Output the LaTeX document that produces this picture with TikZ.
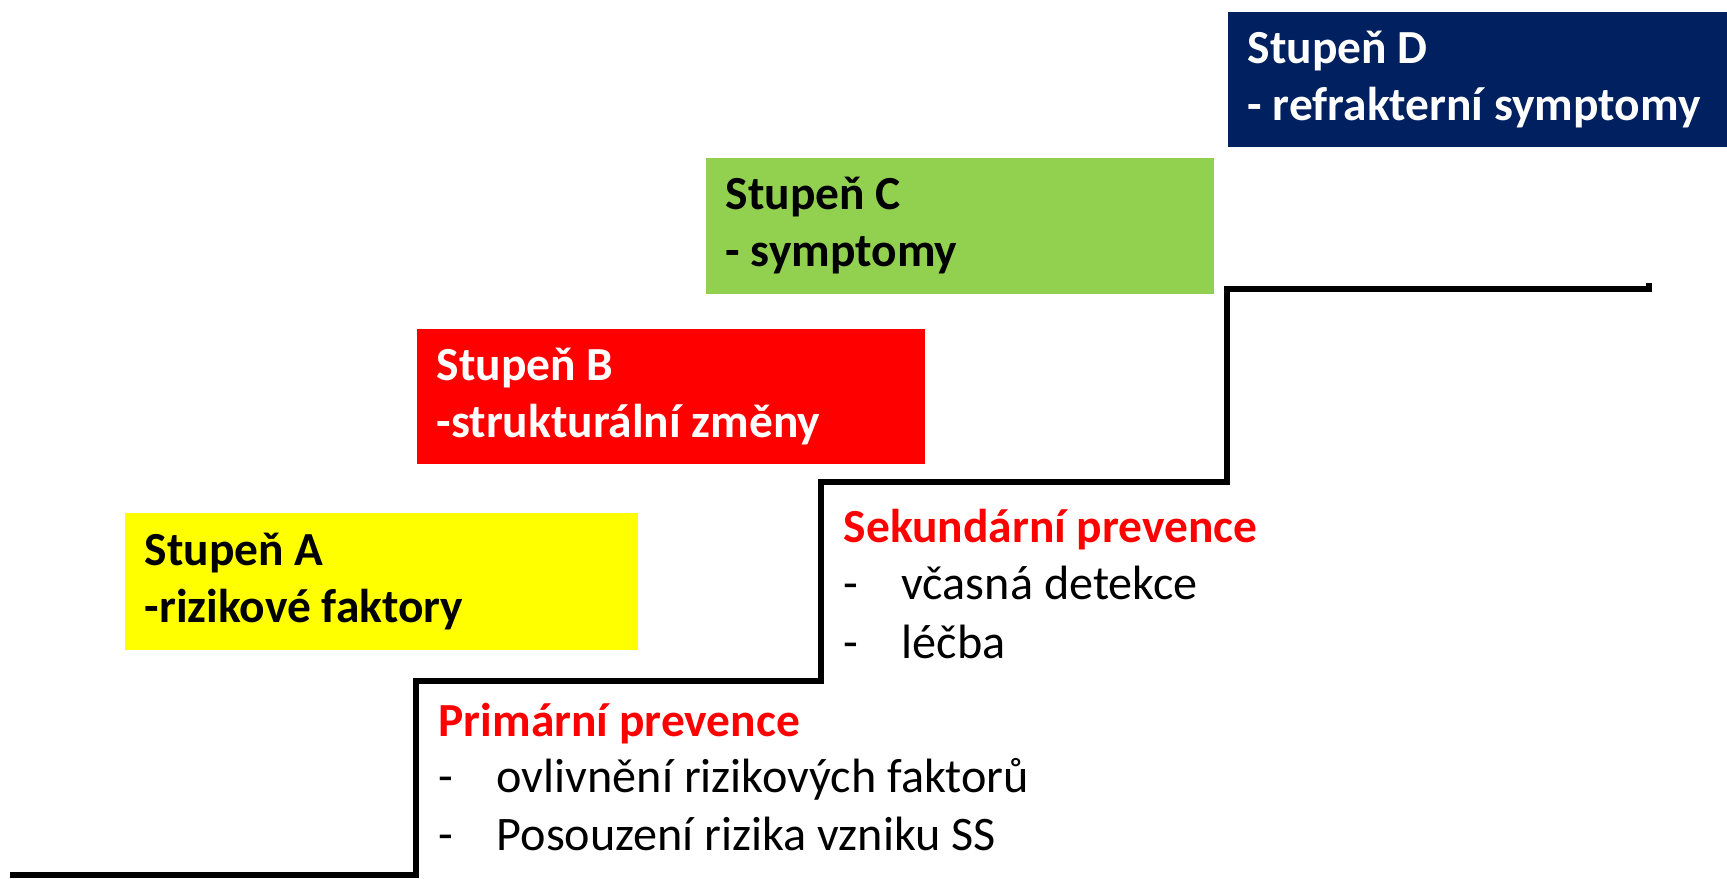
\documentclass[tikz,border=0pt]{standalone}
\usepackage{fontspec}
\setmainfont{Carlito}
\definecolor{stageA}{HTML}{FFFF00}
\definecolor{stageB}{HTML}{FF0000}
\definecolor{stageC}{HTML}{92D050}
\definecolor{stageD}{HTML}{002060}
\newcommand{\itemdash}[1]{\makebox[0.58cm][l]{-}#1}
\begin{document}
\begin{tikzpicture}[x=0.01cm, y=-0.01cm,
    stage/.style={anchor=north west, inner xsep=0.2cm, inner ysep=0pt, align=flush left,
        font=\bfseries\fontsize{13.5}{16.2}\selectfont},
    head/.style={anchor=base west, inner sep=0pt, text=red,
        font=\bfseries\fontsize{13.5}{16.2}\selectfont},
    item/.style={anchor=base west, inner sep=0pt,
        font=\fontsize{13.7}{16.2}\selectfont},
    stair/.style={line width=1.6pt}]
    \useasboundingbox (0,0) rectangle (1727,878);
    % stupne
    \node[stage, fill=stageA, text width=4.73cm, minimum height=1.37cm] (stA) at (124,512) {Stupeň A\\-rizikové faktory};
    \node[stage, fill=stageB, text=white, text width=4.68cm, minimum height=1.35cm] (stB) at (416,328) {Stupeň B\\-strukturální změny};
    \node[stage, fill=stageC, text width=4.68cm, minimum height=1.36cm] (stC) at (705,157) {Stupeň C\\- symptomy};
    \node[stage, fill=stageD, text=white, text width=4.60cm, minimum height=1.35cm] (stD) at (1227,11) {Stupeň D\\- refrakterní symptomy};
    % schody
    \draw[stair] (10,875) -| (416,681) -| (821,482) -| (1227,289) -- (1649,289) -- (1649,283);
    % prevence
    \node[head] (prim) at (438,736) {Primární prevence};
    \node[item] (prim1) at (438,792) {\itemdash{ovlivnění rizikových faktorů}};
    \node[item] (prim2) at (438,850) {\itemdash{Posouzení rizika vzniku SS}};
    \node[head] (sek) at (843,542) {Sekundární prevence};
    \node[item] (sek1) at (843,599) {\itemdash{včasná detekce}};
    \node[item] (sek2) at (843,658) {\itemdash{léčba}};
\end{tikzpicture}
\end{document}
